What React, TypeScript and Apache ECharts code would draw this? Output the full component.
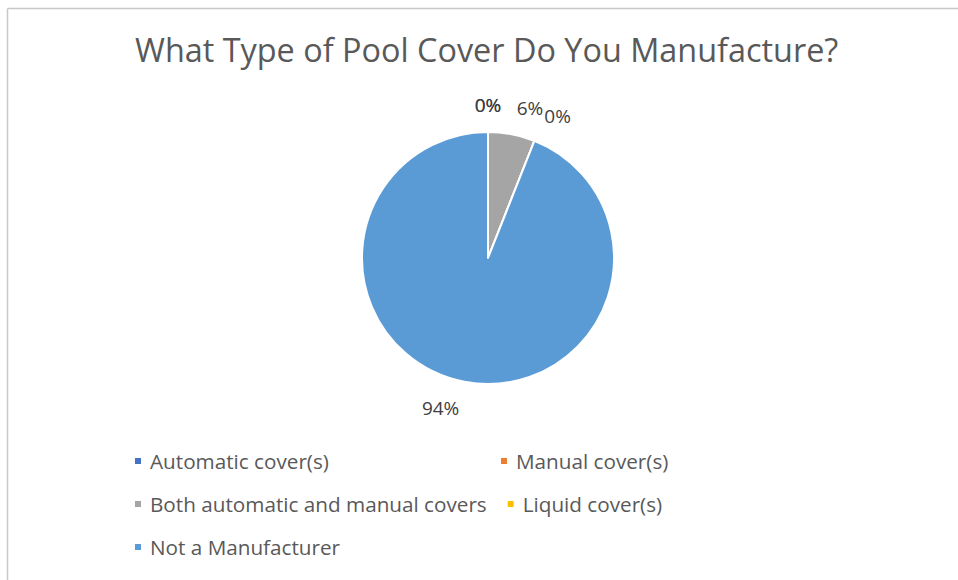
import React, { useEffect, useRef } from "react";
import * as echarts from "echarts";

const categories = [
  "Automatic cover(s)",
  "Manual cover(s)",
  "Both automatic and manual covers",
  "Liquid cover(s)",
  "Not a Manufacturer",
];
const values = [0, 0, 6, 0, 94];
const colors = ["#4472C4", "#ED7D31", "#A5A5A5", "#FFC000", "#5B9BD5"];
const titleText = "What Type of Pool Cover Do You Manufacture?";

const FONT = "'Open Sans', sans-serif";

export default function App() {
  const ref = useRef<HTMLDivElement>(null);
  useEffect(() => {
    if (!ref.current) return;
    const chart = echarts.init(ref.current, undefined, { renderer: "svg" });
    chart.setOption({
      animation: false,
      backgroundColor: "#ffffff",
      title: {
        text: titleText,
        left: 130,
        top: 28,
        textStyle: { fontFamily: FONT, fontSize: 32.4, fontWeight: "normal", color: "#595959" },
      },
      graphic: [
        { type: "line", shape: { x1: 7.5, y1: 8.5, x2: 958, y2: 8.5 }, style: { stroke: "#c8c8c8", lineWidth: 1.5 } },
        { type: "line", shape: { x1: 7.5, y1: 8.5, x2: 7.5, y2: 580 }, style: { stroke: "#c8c8c8", lineWidth: 1.5 } },
      ],
      legend: {
        left: 128,
        top: 444,
        width: 760,
        orient: "horizontal",
        icon: "rect",
        itemWidth: 8,
        itemHeight: 8,
        itemGap: 19,
        data: categories,
        textStyle: {
          fontFamily: FONT,
          fontSize: 20.7,
          color: "#595959",
          width: 330,
          overflow: "none",
          lineHeight: 24,
          padding: [0, 0, 0, 3],
        },
      },
      series: [
        {
          type: "pie",
          center: [488, 258],
          radius: 126,
          startAngle: 90,
          clockwise: true,
          avoidLabelOverlap: false,
          percentPrecision: 0,
          itemStyle: { borderColor: "#ffffff", borderWidth: 2 },
          label: {
            show: true,
            position: "outside",
            formatter: "{d}%",
            fontFamily: FONT,
            fontSize: 19,
            color: "#404040",
            distanceToLabelLine: 0,
          },
          labelLine: { show: false, length: 27, length2: 0 },
          labelLayout: (params: any) =>
            params.dataIndex < 2 ? { align: "center" } : {},
          data: categories.map((name, i) => ({
            name,
            value: values[i],
            itemStyle: { color: colors[i] },
          })),
        },
      ],
    });
    return () => chart.dispose();
  }, []);
  return (
    <div
      ref={ref}
      style={{ position: "absolute", left: 0, top: 0, width: 958, height: 580 }}
    />
  );
}
